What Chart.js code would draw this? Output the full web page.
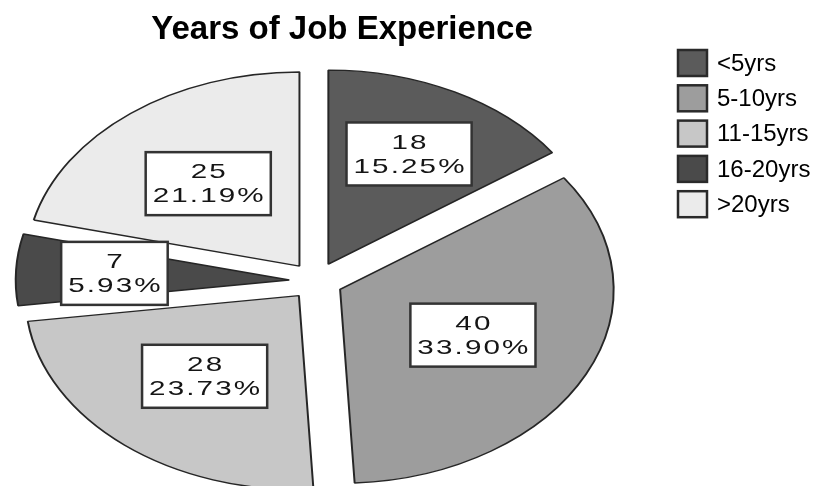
<!DOCTYPE html>
<html>
<head>
<meta charset="utf-8">
<script src="https://cdn.jsdelivr.net/npm/chart.js@4"></script>
<style>
  html, body { margin: 0; padding: 0; background: #fff; }
</style>
</head>
<body>
<canvas id="myChart" width="822" height="486"></canvas>
<script>
const chartTitle = 'Years of Job Experience';
const categories = ['<5yrs', '5-10yrs', '11-15yrs', '16-20yrs', '>20yrs'];
const counts = [18, 40, 28, 7, 25];
const percents = ['15.25%', '33.90%', '23.73%', '5.93%', '21.19%'];
const colors = ['#5b5b5b', '#9d9d9d', '#c7c7c7', '#4a4a4a', '#ebebeb'];

const SX = 1.41;      // the pie is drawn as an ellipse, stretched sideways
const EXPLODE = 19;   // how far each slice is pulled out

function drawLabel(ctx, x, y, lines) {
    ctx.save();
    ctx.font = '21px "Liberation Sans", Arial, sans-serif';
    ctx.letterSpacing = '1.5px';
    let w = Math.max(...lines.map(t => ctx.measureText(t).width)) * SX;
    let bw = w + 12, bh = 63;
    ctx.fillStyle = '#fff';
    ctx.fillRect(x - bw / 2, y - bh / 2, bw, bh);
    ctx.strokeStyle = '#333';
    ctx.lineWidth = 2.5;
    ctx.strokeRect(x - bw / 2, y - bh / 2, bw, bh);
    ctx.fillStyle = '#151515';
    ctx.textAlign = 'center';
    ctx.textBaseline = 'middle';
    lines.forEach((t, k) => {
        ctx.save();
        ctx.translate(x + 1, y - 11 + k * 24);
        ctx.scale(SX, 1);
        ctx.fillText(t, 0, 0);
        ctx.restore();
    });
    ctx.restore();
}

const ellipsePie = {
    id: 'ellipsePie',
    beforeDatasetsDraw(chart) {
        let ctx = chart.ctx;
        chart.getDatasetMeta(0).data.forEach(arc => {
            let mid = (arc.startAngle + arc.endAngle) / 2;
            ctx.save();
            ctx.translate(arc.x, arc.y);
            ctx.scale(SX, 1);
            ctx.translate(-arc.x + Math.cos(mid) * EXPLODE, -arc.y + Math.sin(mid) * EXPLODE);
            arc.draw(ctx);
            ctx.restore();
        });
        return false;
    },
    afterDraw(chart) {
        let ctx = chart.ctx;

        // slice labels
        chart.getDatasetMeta(0).data.forEach((arc, i) => {
            let mid = (arc.startAngle + arc.endAngle) / 2;
            let share = (arc.endAngle - arc.startAngle) / (2 * Math.PI);
            let d = EXPLODE + arc.outerRadius * (share < 0.2 ? 0.64 : 0.54);
            drawLabel(ctx, arc.x + Math.cos(mid) * d * SX, arc.y + Math.sin(mid) * d,
                [String(counts[i]), percents[i]]);
        });

        // title
        ctx.save();
        ctx.fillStyle = '#000';
        ctx.font = 'bold 33px "Liberation Sans", Arial, sans-serif';
        ctx.textAlign = 'center';
        ctx.textBaseline = 'alphabetic';
        ctx.fillText(chartTitle, 342, 39);
        ctx.restore();

        // legend
        ctx.save();
        ctx.font = '24px "Liberation Sans", Arial, sans-serif';
        ctx.textBaseline = 'middle';
        categories.forEach((c, i) => {
            let cy = 63 + i * 35.3;
            ctx.fillStyle = colors[i];
            ctx.fillRect(678, cy - 13, 29, 26);
            ctx.strokeStyle = '#2a2a2a';
            ctx.lineWidth = 2.5;
            ctx.strokeRect(678, cy - 13, 29, 26);
            ctx.fillStyle = '#000';
            ctx.fillText(c, 717, cy + 1);
        });
        ctx.restore();
    }
};

new Chart(document.getElementById('myChart'), {
    type: 'pie',
    data: {
        labels: categories,
        datasets: [{
            data: counts,
            backgroundColor: colors,
            borderColor: '#262626',
            borderWidth: 1.4
        }]
    },
    options: {
        responsive: false,
        animation: false,
        events: [],
        radius: 194,
        layout: { padding: { left: 0, right: 190, top: 76, bottom: 0 } },
        plugins: {
            legend: { display: false },
            title: { display: false },
            tooltip: { enabled: false }
        }
    },
    plugins: [ellipsePie]
});
</script>
</body>
</html>
